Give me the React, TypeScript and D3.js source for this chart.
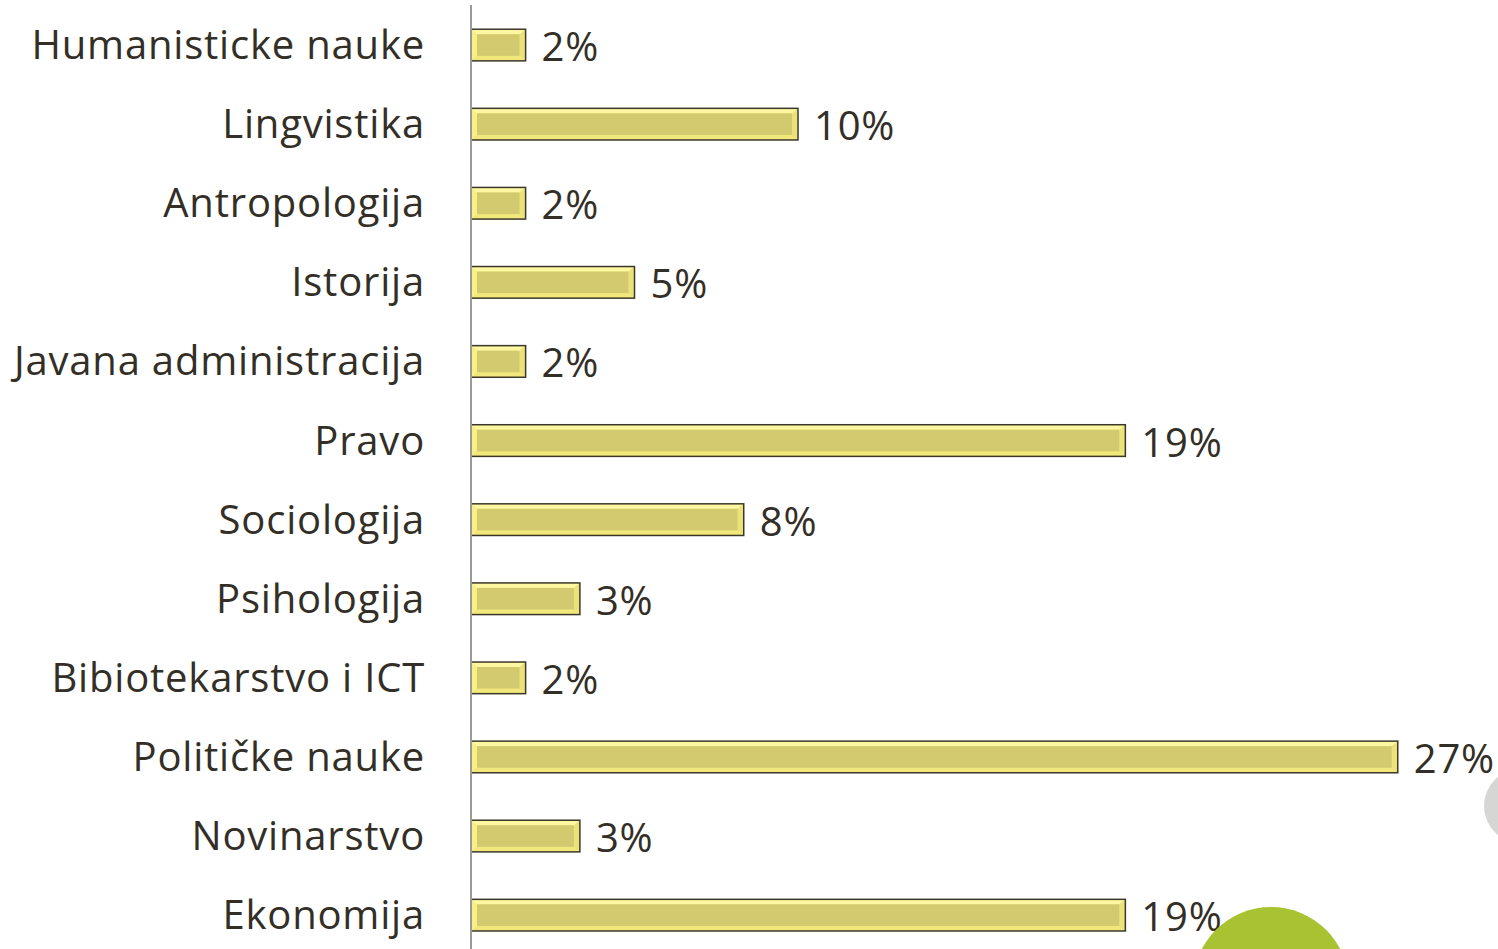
import React from "react";
import * as d3 from "d3";

const categories = [
  "Humanisticke nauke",
  "Lingvistika",
  "Antropologija",
  "Istorija",
  "Javana administracija",
  "Pravo",
  "Sociologija",
  "Psihologija",
  "Bibiotekarstvo i ICT",
  "Političke nauke",
  "Novinarstvo",
  "Ekonomija",
];
const values = [1.59, 9.52, 1.59, 4.76, 1.59, 19.05, 7.94, 3.17, 1.59, 26.98, 3.17, 19.05];

const W = 1498;
const H = 949;
const axisX = 471;
const textColor = "#332f27";
const font = "'Open Sans', sans-serif";
const fs = 40;
const ls = 0.8;

export default function App() {
  const x = d3.scaleLinear().domain([0, 1]).range([axisX, axisX + 34.35]);
  const y = d3
    .scaleBand<string>()
    .domain(categories)
    .range([5.5, 5.5 + 79.1 * categories.length])
    .paddingInner(0.6)
    .paddingOuter(0.3);
  const bh = y.bandwidth();

  return (
    <svg width={W} height={H} style={{ position: "absolute", left: 0, top: 0, background: "#fff" }}>
      {categories.map((c, i) => {
        const y0 = y(c)!;
        const x1 = x(values[i]);
        const w = x1 - axisX;
        const ins = 6;
        const insY = 5;
        return (
          <g key={c}>
            <rect x={axisX} y={y0} width={w} height={bh} fill="#f8f084" />
            <polygon
              points={`${axisX},${y0} ${x1},${y0} ${x1 - ins},${y0 + insY} ${axisX + ins},${y0 + insY}`}
              fill="#fcf7a0"
            />
            <polygon
              points={`${axisX},${y0 + bh} ${x1},${y0 + bh} ${x1 - ins},${y0 + bh - insY} ${axisX + ins},${y0 + bh - insY}`}
              fill="#f1e77a"
            />
            <polygon
              points={`${x1},${y0} ${x1},${y0 + bh} ${x1 - ins},${y0 + bh - insY} ${x1 - ins},${y0 + insY}`}
              fill="#ece27a"
            />
            <rect
              x={axisX + ins}
              y={y0 + insY}
              width={Math.max(0, w - 2 * ins)}
              height={bh - 2 * insY}
              fill="#d3c96f"
            />
            <rect
              x={axisX}
              y={y0}
              width={w}
              height={bh}
              fill="none"
              stroke="#3b382a"
              strokeWidth={1.5}
            />
            <text
              x={425}
              y={y0 + bh / 2}
              dy="0.35em"
              textAnchor="end"
              fontFamily={font}
              fontSize={fs}
              letterSpacing={ls}
              fill={textColor}
            >
              {c}
            </text>
            <text
              x={x1 + 16}
              y={y0 + bh / 2 + 2}
              dy="0.35em"
              textAnchor="start"
              fontFamily={font}
              fontSize={fs}
              letterSpacing={ls}
              fill={textColor}
            >
              {Math.round(values[i])}%
            </text>
          </g>
        );
      })}
      <line x1={axisX} x2={axisX} y1={5} y2={H} stroke="#9a9a9a" strokeWidth={2} />
      <circle cx={1271} cy={985} r={78} fill="#a8c232" />
      <circle cx={1521} cy={806} r={37} fill="#d6d7d4" />
    </svg>
  );
}
